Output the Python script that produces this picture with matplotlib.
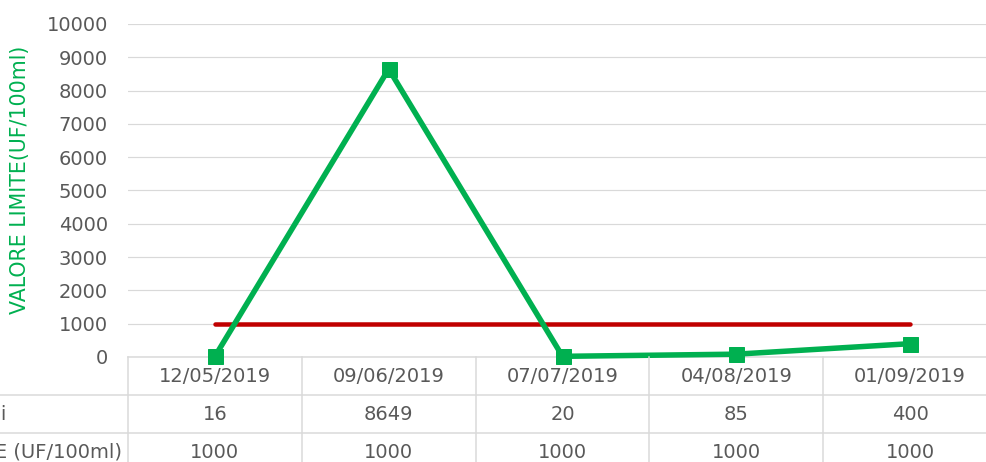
import matplotlib
matplotlib.use("Agg")
import matplotlib.pyplot as plt
from matplotlib.lines import Line2D
from matplotlib.transforms import blended_transform_factory

# dati
date = ["12/05/2019", "09/06/2019", "07/07/2019", "04/08/2019", "01/09/2019"]
valori = [16, 8649, 20, 85, 400]
limite = [1000, 1000, 1000, 1000, 1000]
riga1 = "Escherichia coli"
riga2 = "VALORE LIMITE (UF/100ml)"
yticks = list(range(0, 10001, 1000))

W, H = 986, 462
verde = "#00B050"
rosso = "#C00000"
grigio = "#595959"
linea = "#D9D9D9"
fs = 19.5

plt.rcParams['font.family'] = ['DejaVu Sans']

fig = plt.figure(figsize=(W / 72, H / 72), dpi=72)

def fy(py):  # pixel y (dall'alto) -> frazione figura
    return 1 - py / H

# area del grafico (esce un po' a destra come nell'originale)
x0, x1 = 128, 997
ytop, y0 = 24, 357
ax = fig.add_axes([x0 / W, fy(y0), (x1 - x0) / W, (y0 - ytop) / H])

xs = list(range(len(date)))
ax.plot(xs, limite, color=rosso, lw=4.5, solid_capstyle='round', zorder=3)
ax.plot(xs, valori, color=verde, lw=5.5, marker='s', markersize=15, zorder=4, clip_on=False)

ax.set_xlim(-0.5, len(date) - 0.5)
ax.set_ylim(0, 10000)
ax.set_yticks(yticks)
ax.set_yticklabels([str(v) for v in yticks], fontsize=fs, color=grigio)
ax.tick_params(axis='y', length=0, pad=20)
ax.set_xticks([])
ax.grid(axis='y', color=linea, lw=1.2)
ax.set_axisbelow(True)
for s in ['top', 'right', 'left']:
    ax.spines[s].set_visible(False)
ax.spines['bottom'].set_color(linea)
ax.spines['bottom'].set_linewidth(1.5)

fig.text(20 / W, fy(180), "VALORE LIMITE(UF/100ml)", rotation=90, color=verde,
         fontsize=20.5, ha='center', va='center')

# tabella dati sotto il grafico
tr = blended_transform_factory(ax.transData, fig.transFigure)
for i in range(len(date) + 1):
    fig.add_artist(Line2D([i - 0.5, i - 0.5], [fy(y0), 0], transform=tr,
                          color=linea, lw=1.5))
for py in [395, 433]:
    fig.add_artist(Line2D([0, 1], [fy(py), fy(py)], transform=fig.transFigure,
                          color=linea, lw=1.5))

for i in xs:
    fig.text(i, fy(376), date[i], transform=tr, ha='center', va='center',
             fontsize=fs, color=grigio)
    fig.text(i, fy(414), str(valori[i]), transform=tr, ha='center', va='center',
             fontsize=fs, color=grigio)
    fig.text(i, fy(452), str(limite[i]), transform=tr, ha='center', va='center',
             fontsize=fs, color=grigio)

# etichette di riga tagliate dal bordo come nell'originale
fig.text(6.5 / W, fy(414), riga1, ha='right', va='center', fontsize=fs, color=grigio)
fig.text(122 / W, fy(452), riga2, ha='right', va='center', fontsize=fs, color=grigio)

fig.savefig("out.png", dpi=72)
